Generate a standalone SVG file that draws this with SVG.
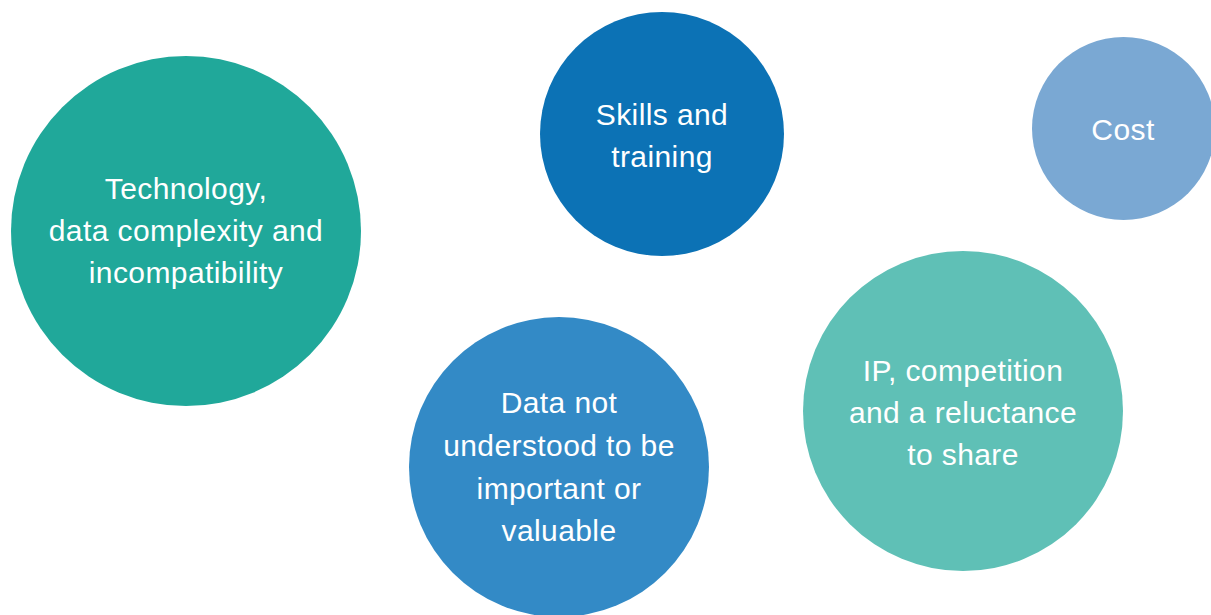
<svg xmlns="http://www.w3.org/2000/svg" width="1211" height="615" viewBox="0 0 1211 615">
<style>
.lbl{font-family:"Liberation Sans",Arial,Helvetica,sans-serif;font-size:30px;fill:#ffffff;text-anchor:middle;letter-spacing:0.4px}
</style>
<rect width="1211" height="615" fill="#ffffff"/>
<g id="node-technology">
<circle cx="186" cy="231" r="175" fill="#20a89a"/>
<text class="lbl" x="186" y="199">Technology,</text>
<text class="lbl" x="186" y="241">data complexity and</text>
<text class="lbl" x="186" y="283">incompatibility</text>
</g>
<g id="node-skills">
<circle cx="662" cy="134" r="122" fill="#0c72b5"/>
<text class="lbl" x="662" y="125">Skills and</text>
<text class="lbl" x="662" y="167">training</text>
</g>
<g id="node-cost">
<circle cx="1123.5" cy="128.5" r="91.5" fill="#7aa8d3"/>
<text class="lbl" x="1123" y="140">Cost</text>
</g>
<g id="node-data">
<circle cx="559" cy="467" r="150" fill="#338ac6"/>
<text class="lbl" x="559" y="413">Data not</text>
<text class="lbl" x="559" y="456">understood to be</text>
<text class="lbl" x="559" y="499">important or</text>
<text class="lbl" x="559" y="541">valuable</text>
</g>
<g id="node-ip">
<circle cx="963" cy="411" r="160" fill="#5fc0b6"/>
<text class="lbl" x="963" y="381">IP, competition</text>
<text class="lbl" x="963" y="423">and a reluctance</text>
<text class="lbl" x="963" y="465">to share</text>
</g>
<g id="connectors"/>
</svg>
